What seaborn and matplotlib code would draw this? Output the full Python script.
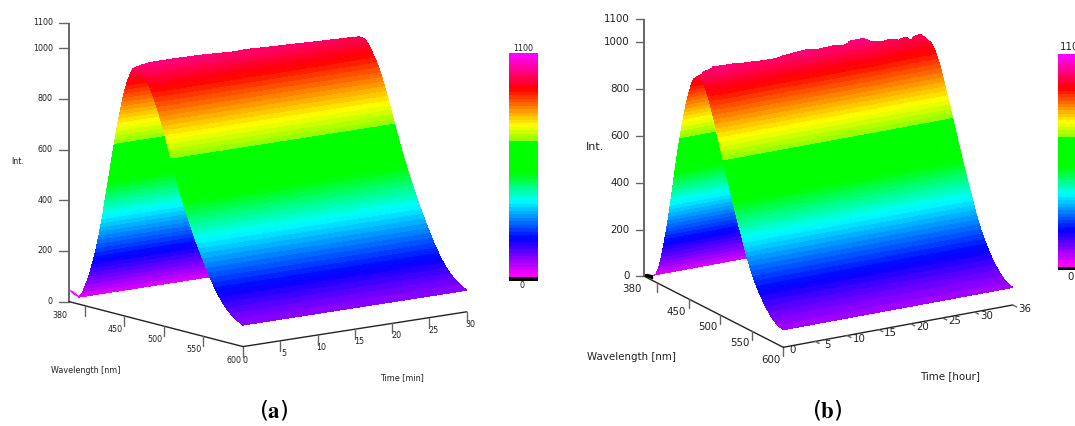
import numpy as np
import matplotlib
matplotlib.use("Agg")
import matplotlib.pyplot as plt
import matplotlib.colors as mcolors
import seaborn as sns

# ---------- data ----------
wl_a = [392, 395, 398, 402, 406, 410, 414, 418, 422, 426, 430, 434, 438, 442, 446, 450, 454, 458, 461, 464,
        468, 472, 476, 480, 484, 488, 492, 496, 500, 504, 508, 512, 516, 520, 524, 528, 532, 536, 540, 544,
        548, 552, 556, 560, 564, 568, 572, 576, 580, 585, 590, 595, 600]
int_a = [27, 38, 58, 92, 132, 180, 232, 295, 365, 445, 525, 605, 685, 760, 825, 885, 930, 965, 985, 992,
         992, 985, 968, 942, 915, 885, 850, 810, 768, 722, 677, 633, 590, 550, 511, 474, 439, 405, 373, 342,
         312, 283, 255, 229, 205, 183, 163, 146, 131, 115, 103, 93, 85]
tail_wl_a = [380, 386, 392]
tail_low_a = [45, 32, 27]
tail_up_a = [48, 44, 34]
time_a = [0, 1, 2, 5, 8.7, 13, 15, 18, 23.5, 28.7, 30]
peak_a = [992, 998, 1002, 1002, 1000, 993, 994, 990, 983, 977, 975]

wl_b = [394, 398, 402, 406, 410, 414, 418, 422, 426, 430, 434, 438, 442, 446, 450, 454, 458, 462, 465.4,
        469, 473, 478, 484, 490, 496, 502, 508, 514, 520, 526, 532, 538, 544, 550, 556, 562, 568, 574, 580,
        586, 592, 597, 600]
int_b = [24, 32, 62, 105, 165, 230, 300, 380, 465, 550, 630, 700, 765, 825, 875, 920, 950, 965, 969,
         968, 958, 930, 884, 825, 760, 700, 637, 575, 515, 458, 402, 347, 295, 250, 212, 180, 152, 128, 108,
         92, 82, 77, 75]
tail_wl_b = [380, 386, 394]
tail_low_b = [0, 2, 6]
tail_up_b = [10, 18, 24]
time_b = [0, 1.3, 2.6, 3.9, 5.5, 6.8, 8.6, 10.2, 12.6, 13.3, 14.9, 17, 19, 21.2, 22.8, 24.1, 25.9,
          27.2, 29, 30.1, 31.1, 31.6, 32.2, 32.8, 33.3, 34.8, 35.8, 36]
peak_b = [969, 989, 1001, 999, 998, 994, 992, 988, 987, 993, 997, 1000, 994, 997, 988, 1003, 1005,
          984, 975, 981, 975, 960, 976, 973, 958, 978, 955, 945]

int_ticks = [0, 200, 400, 600, 800, 1000, 1100]
wl_ticks = [400, 450, 500, 550, 600]
time_ticks_a = [5, 10, 15, 20, 25, 30]
time_ticks_b = [5, 10, 15, 20, 25, 30, 36]

# colour key anchors: intensity value, colour
key_values = [0, 185, 373, 513, 667, 667, 748, 930, 1100]
key_colors = ["#ff00ff", "#0000ff", "#00ffff", "#00ff00", "#00ff00", "#82ff00", "#ffff00", "#ff0000", "#ff00ff"]
key_max = 1100
n_bands = 64

# ---------- style ----------
sns.set_theme(style="white")
plt.rcParams["font.family"] = ["DejaVu Sans"]
plt.rcParams["mathtext.fontset"] = "stix"

W, H = 1075, 426
fig = plt.figure(figsize=(W / 100, H / 100), dpi=100)
ax = fig.add_axes([0, 0, 1, 1])
ax.set_xlim(0, W)
ax.set_ylim(H, 0)
ax.axis("off")

cmap = mcolors.LinearSegmentedColormap.from_list(
    "key", [(v / key_max, c) for v, c in zip(key_values, key_colors)], N=n_bands)
cmap.set_under("black")
edges = np.linspace(0, key_max, n_bands + 1)
mids = 0.5 * (edges[1:] + edges[:-1])
DARK = "#222222"
GREY = "#666666"


def panel(g, wl, inten, tail_wl, tail_low, tail_up, times, peaks, ttl, fs):
    def project(w, t, i):
        w, t, i = np.asarray(w, float), np.asarray(t, float), np.asarray(i, float)
        return (g["ox"] + g["wx"] * (w - 380) + g["tx"] * t,
                g["oy"] + g["wy"] * (w - 380) + g["ty"] * t - g["k"] * i)

    wl, inten = np.array(wl, float), np.array(inten, float)
    times, peaks = np.array(times, float), np.array(peaks, float)
    top = inten.max()
    ipk = int(np.argmax(inten))

    # tail in front of the valley
    x1, y1 = project(tail_wl, 0 * np.array(tail_wl), tail_low)
    x2, y2 = project(tail_wl, 0 * np.array(tail_wl), tail_up)
    ax.fill(np.r_[x1, x2[::-1]], np.r_[y1, y2[::-1]], color=g["tail"], lw=0, zorder=2)

    # rising face first, falling face over it
    for lo, hi, z in ((0, ipk + 1, 3), (ipk, len(wl), 4)):
        w = wl[lo:hi]
        s = inten[lo:hi]
        Wg, Tg = np.meshgrid(w, times, indexing="ij")
        Z = s[:, None] + (peaks - top)[None, :] * (s[:, None] / top) ** 8
        X, Y = project(Wg, Tg, Z)
        ax.contourf(X, Y, Z, levels=edges, cmap=cmap, vmin=0, vmax=key_max, zorder=z)

    # intensity axis
    x0, y0 = project(380, 0, 0)
    x1, y1 = project(380, 0, key_max)
    ax.plot([x0, x1], [y0, y1], color=GREY, lw=1.4, zorder=5, solid_capstyle="butt")
    for v in int_ticks:
        x, y = project(380, 0, v)
        ax.plot([x - g["ytick"], x], [y, y], color=GREY, lw=1.0, zorder=5)
        ax.text(x - g["ytick"] - 6, y, str(v), ha="right", va="center", fontsize=fs, color=DARK)
    ax.text(g["int"][0], g["int"][1], "Int.", ha="center", va="center", fontsize=g["int"][2], color=DARK)

    # wavelength axis
    xa, ya = project([380, 600], [0, 0], [0, 0])
    ax.plot(xa, ya, color=DARK, lw=1.0, zorder=5)
    for v, off in zip(wl_ticks, g["wl_lab"]):
        x, y = project(v, 0, 0)
        ax.plot([x, x], [y, y + g["wtick"]], color=GREY, lw=1.0, zorder=5)
        if off is not None:
            ax.text(x + off[0], y + off[1], str(v), ha="center", va="center", fontsize=fs, color=DARK)
    ax.text(g["l380"][0], g["l380"][1], "380", ha="center", va="center", fontsize=fs, color=DARK)
    ax.text(g["wl_name"][0], g["wl_name"][1], "Wavelength [nm]", ha="center", va="center", fontsize=fs, color=DARK)

    # time axis
    xa, ya = project([600, 600], [0, times[-1]], [0, 0])
    ax.plot(xa, ya, color=DARK, lw=1.0, zorder=5)
    for v in g["tticks"]:
        x, y = project(600, v, 0)
        ax.plot([x, x + g["ttick"][0]], [y, y + g["ttick"][1]], color=GREY, lw=1.0, zorder=5)
        ax.text(x + g["tlab"][0], y + g["tlab"][1], str(v), ha="center", va="center", fontsize=fs, color=DARK)
    ax.text(g["t0"][0], g["t0"][1], "0", ha="center", va="center", fontsize=fs, color=DARK)
    ax.text(g["t_name"][0], g["t_name"][1], ttl, ha="center", va="center", fontsize=fs, color=DARK)

    # colour key, one heatmap row per band plus the black zero row
    l, r, t, b = g["key"]
    kax = fig.add_axes([l / W, 1 - b / H, (r - l) / W, (b - t) / H])
    strip = np.r_[mids[::-1], -1.0][:, None]
    sns.heatmap(strip, ax=kax, cmap=cmap, vmin=0, vmax=key_max, cbar=False,
                xticklabels=False, yticklabels=False)
    ax.text((g["key_lab"][0]), g["key_lab"][1], "1100", ha="center", va="center", fontsize=fs, color=DARK)
    ax.text((g["key_lab"][2]), g["key_lab"][3], "0", ha="center", va="center", fontsize=fs, color=DARK)


geom_a = dict(ox=69, oy=301.6, wx=174 / 220, wy=45 / 220, tx=223.7 / 30, ty=-34.8 / 30, k=0.2535,
              tail="#ff00ff", ytick=10, wtick=10, ttick=(0, 10), tlab=(4, 12.5), tticks=time_ticks_a,
              wl_lab=[None, (-9, 13.3), (-9, 13.3), (-9, 13.3), (-9, 14)], l380=(60, 315), t0=(245, 360.7),
              wl_name=(86, 370.5), t_name=(402, 377.7), int=(18, 161.7, 5.8),
              key=(508.5, 538, 53.3, 281), key_lab=(523, 48.3, 522, 285))
geom_b = dict(ox=644.3, oy=276.3, wx=139 / 220, wy=71 / 220, tx=229.4 / 36, ty=-42.3 / 36, k=0.2339,
              tail="black", ytick=8.5, wtick=9, ttick=(4, 2), tlab=(12, 3.5), tticks=time_ticks_b,
              wl_lab=[None, (-12, 13), (-12, 12), (-12, 12), (-12, 12.7)], l380=(632, 288.7), t0=(793, 350),
              wl_name=(631.7, 356.7), t_name=(950, 375.7), int=(595, 147, 8),
              key=(1058.3, 1088, 54, 270), key_lab=(1073, 46.7, 1070.7, 277))

panel(geom_a, wl_a, int_a, tail_wl_a, tail_low_a, tail_up_a, time_a, peak_a, "Time [min]", 5.8)
panel(geom_b, wl_b, int_b, tail_wl_b, tail_low_b, tail_up_b, time_b, peak_b, "Time [hour]", 7.4)

ax.text(274, 410, r"($\mathbf{a}$)", ha="center", va="center", fontsize=16.5, color="black")
ax.text(827, 410, r"($\mathbf{b}$)", ha="center", va="center", fontsize=16.5, color="black")

fig.savefig("out.png", dpi=100)
